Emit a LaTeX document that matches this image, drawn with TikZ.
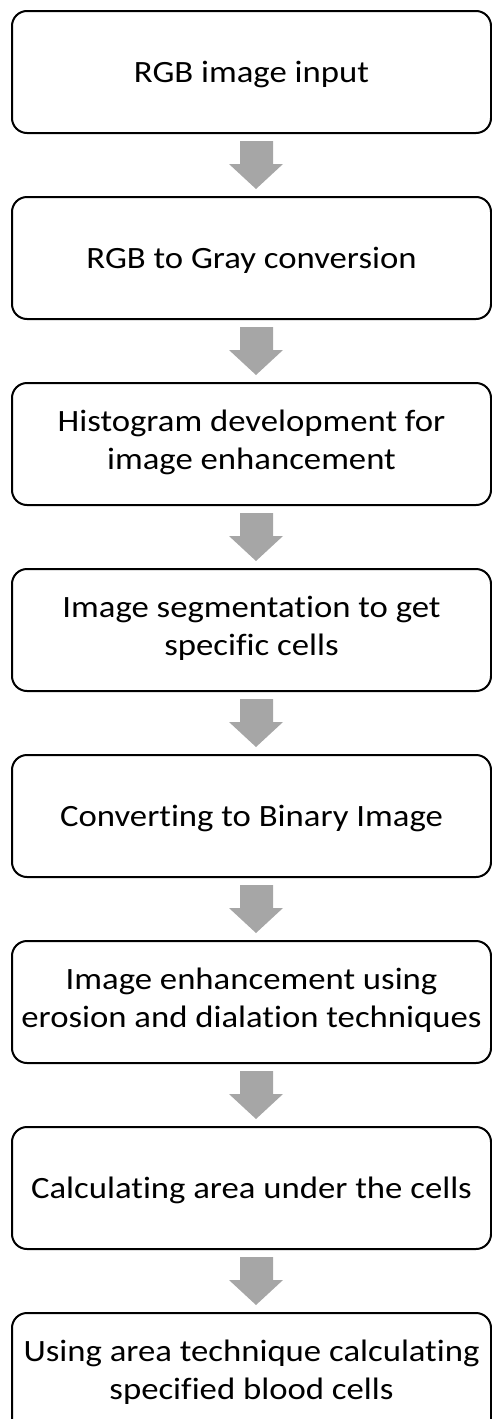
\documentclass[tikz,border=0pt]{standalone}
\usepackage{fontspec}
\setmainfont{Carlito}[Ligatures=NoCommon, FakeStretch=1.12]
\usetikzlibrary{positioning, calc}
\definecolor{arrowgray}{HTML}{A6A6A6}
\newcommand\linestrut{\rule[-8.3pt]{0pt}{37.8pt}}

\begin{document}
\begin{tikzpicture}
  [
   x=1pt, y=1pt,
   stepbox/.style={draw=black, line width=2pt, rounded corners=15pt,
     minimum width=479pt, minimum height=122pt, align=center,
     inner sep=0pt, font=\fontsize{31}{37.8}\selectfont,
     execute at begin node=\linestrut, execute at end node=\linestrut},
   arrowfill/.style={fill=arrowgray}
  ]
  \useasboundingbox (0,0) rectangle (492,-1419);
  % 八个步骤框,依次向下排列
  \node[stepbox, anchor=north] (b1) at (251.5,-10) {RGB image input};
  \node[stepbox, below=62pt of b1] (b2) {RGB to Gray conversion};
  \node[stepbox, below=62pt of b2] (b3) {Histogram development for\\ image enhancement};
  \node[stepbox, below=62pt of b3] (b4) {Image segmentation to get\\ specific cells};
  \node[stepbox, below=62pt of b4] (b5) {Converting to Binary Image};
  \node[stepbox, below=62pt of b5] (b6) {Image enhancement using\\ erosion and dialation techniques};
  \node[stepbox, below=62pt of b6] (b7) {Calculating area under the cells};
  \node[stepbox, below=62pt of b7] (b8) {Using area technique calculating\\ specified blood cells};
  \foreach \a/\b in {b1/b2,b2/b3,b3/b4,b4/b5,b5/b6,b6/b7,b7/b8} % 灰色箭头
    \fill[arrowfill]
         ($(\a.south)+(-11.5,-7)$) -- ($(\a.south)+(21.5,-7)$)
      -- ($(\a.south)+(21.5,-30)$) -- ($(\a.south)+(31.5,-30)$)
      -- ($(\b.north)+(4.5,7)$)
      -- ($(\a.south)+(-22.5,-30)$) -- ($(\a.south)+(-11.5,-30)$) -- cycle;
\end{tikzpicture}
\end{document}
